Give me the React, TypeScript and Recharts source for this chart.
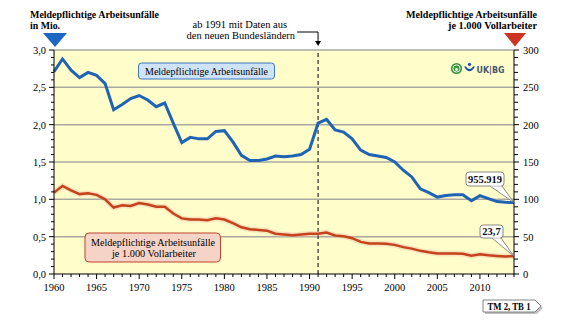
import {
  ComposedChart,
  Line,
  XAxis,
  YAxis,
  ReferenceArea,
  ReferenceLine,
  ReferenceDot,
} from 'recharts';

const SERIF = "'Liberation Serif', 'Times New Roman', Times, serif";

// Jahre 1960 - 2014
const years = [
  1960, 1961, 1962, 1963, 1964, 1965, 1966, 1967, 1968, 1969,
  1970, 1971, 1972, 1973, 1974, 1975, 1976, 1977, 1978, 1979,
  1980, 1981, 1982, 1983, 1984, 1985, 1986, 1987, 1988, 1989,
  1990, 1991, 1992, 1993, 1994, 1995, 1996, 1997, 1998, 1999,
  2000, 2001, 2002, 2003, 2004, 2005, 2006, 2007, 2008, 2009,
  2010, 2011, 2012, 2013, 2014,
];

// Meldepflichtige Arbeitsunfälle in Mio.
const accidentsMio = [
  2.71, 2.88, 2.73, 2.63, 2.7, 2.66, 2.55, 2.2, 2.27, 2.35,
  2.39, 2.33, 2.24, 2.29, 2.02, 1.76, 1.83, 1.81, 1.81, 1.91,
  1.92, 1.77, 1.59, 1.52, 1.52, 1.54, 1.58, 1.57, 1.58, 1.6,
  1.67, 2.02, 2.07, 1.93, 1.9, 1.81, 1.66, 1.6, 1.58, 1.56,
  1.5, 1.39, 1.3, 1.14, 1.09, 1.03, 1.05, 1.06, 1.06, 0.98,
  1.05, 1.01, 0.97, 0.96, 0.955919,
];

// Meldepflichtige Arbeitsunfälle je 1.000 Vollarbeiter
const ratePer1000 = [
  109, 118, 112, 107, 108, 106, 100, 89, 92, 91,
  95, 93, 90, 90, 81, 74.5, 73, 73, 72, 74.5,
  73, 68, 62.5, 60, 59, 58, 54, 53, 52, 53,
  54, 54, 55.5, 51.5, 50.5, 48, 43, 41, 41, 40.5,
  39, 36, 34, 31, 29, 27.5, 27.5, 27.5, 27, 24.5,
  26.3, 25, 24.2, 23.6, 23.7,
];

const gridLevels = [0.5, 1.0, 1.5, 2.0, 2.5, 3.0];
const leftTicks = Array.from({ length: 31 }, (_, i) => i / 10);
const rightTicks = Array.from({ length: 31 }, (_, i) => i * 10);

const data = years.map((year, i) => ({
  year,
  mio: accidentsMio[i],
  rate: ratePer1000[i],
}));

const lastYear = years[years.length - 1];
const lastMio = accidentsMio[accidentsMio.length - 1];
const lastRate = ratePer1000[ratePer1000.length - 1];

const fmtMio = (v: number) =>
  String(Math.round(v * 1e6)).replace(/\B(?=(\d{3})+(?!\d))/g, '.');
const fmtRate = (v: number) => v.toFixed(1).replace('.', ',');

const serif = { fontFamily: SERIF };

function XTick({ x, y, payload }: any) {
  const major = payload.value % 5 === 0;
  return (
    <g>
      <line x1={x} x2={x} y1={y} y2={y + (major ? 5 : 3)} stroke="#000" />
      {major && (
        <text x={x} y={y + 17} textAnchor="middle" fontSize={10.5} style={serif} fill="#000">
          {payload.value}
        </text>
      )}
    </g>
  );
}

function LeftTick({ x, y, payload }: any) {
  const major = Math.round(payload.value * 10) % 5 === 0;
  return (
    <g>
      <line x1={x} x2={x - (major ? 5 : 3)} y1={y} y2={y} stroke="#000" />
      {major && (
        <text x={x - 8} y={y + 4} textAnchor="end" fontSize={10.5} style={serif} fill="#000">
          {payload.value.toFixed(1).replace('.', ',')}
        </text>
      )}
    </g>
  );
}

function RightTick({ x, y, payload }: any) {
  const major = payload.value % 50 === 0;
  return (
    <g>
      <line x1={x} x2={x + (major ? 5 : 4)} y1={y} y2={y} stroke="#000" />
      {major && (
        <text x={x + 9} y={y + 4} textAnchor="start" fontSize={10.5} style={serif} fill="#000">
          {payload.value}
        </text>
      )}
    </g>
  );
}

function Callout({ cx, cy, label, bx, by, bw, bh, t1, t2 }: any) {
  const base = cy + by + bh;
  return (
    <g>
      <polygon
        points={`${cx},${cy} ${cx + t1},${base} ${cx + t2},${base}`}
        fill="#fff"
        stroke="#6b6b6b"
        strokeWidth={0.8}
      />
      <rect x={cx + bx} y={cy + by} width={bw} height={bh} rx={3} fill="#fff" stroke="#6b6b6b" strokeWidth={0.8} />
      <line x1={cx + t1 + 0.6} x2={cx + t2 - 0.6} y1={base} y2={base} stroke="#fff" strokeWidth={1.2} />
      <text
        x={cx + bx + bw / 2}
        y={cy + by + bh - 3.5}
        textAnchor="middle"
        fontSize={10.5}
        fontWeight="bold"
        style={serif}
        fill="#111"
      >
        {label}
      </text>
    </g>
  );
}

function NewStatesNote({ cx, cy }: any) {
  return (
    <g>
      <text x={cx - 31} y={cy - 22} textAnchor="end" fontSize={10.5} style={serif} fill="#000">
        ab 1991 mit Daten aus
      </text>
      <text x={cx - 23} y={cy - 11} textAnchor="end" fontSize={10.5} style={serif} fill="#000">
        den neuen Bundesländern
      </text>
      <polyline
        points={`${cx - 21},${cy - 18} ${cx},${cy - 18} ${cx},${cy - 8}`}
        fill="none"
        stroke="#000"
        strokeWidth={1}
      />
      <polygon points={`${cx - 3},${cy - 9} ${cx + 3},${cy - 9} ${cx},${cy - 4}`} fill="#000" />
    </g>
  );
}

function Overlay() {
  return (
    <svg
      width={566}
      height={326}
      style={{ position: 'absolute', left: 0, top: 0, pointerEvents: 'none', fontFamily: SERIF }}
    >
      {/* linke Achsenbeschriftung */}
      <text x={30} y={17.5} fontSize={10.5} fontWeight="bold" style={serif} textLength={129} lengthAdjust="spacingAndGlyphs">
        Meldepflichtige Arbeitsunfälle
      </text>
      <text x={30} y={29} fontSize={10.5} fontWeight="bold" style={serif} textLength={30} lengthAdjust="spacingAndGlyphs">
        in Mio.
      </text>
      <polygon points="43,33 67,33 55,47" fill="#1a66c2" />

      {/* rechte Achsenbeschriftung */}
      <text x={537} y={18} textAnchor="end" fontSize={10.5} fontWeight="bold" style={serif} textLength={131} lengthAdjust="spacingAndGlyphs">
        Meldepflichtige Arbeitsunfälle
      </text>
      <text x={537} y={28.5} textAnchor="end" fontSize={10.5} fontWeight="bold" style={serif} textLength={89} lengthAdjust="spacingAndGlyphs">
        je 1.000 Vollarbeiter
      </text>
      <polygon points="504,33 526,33 515,46.5" fill="#cc3322" />

      {/* Legende blau */}
      <rect x={138.5} y={63} width={136} height={16} rx={3} fill="#cfe3f8" stroke="#3d78bf" strokeWidth={1} />
      <text x={206.5} y={75} textAnchor="middle" fontSize={10.5} style={serif} textLength={123} lengthAdjust="spacingAndGlyphs">
        Meldepflichtige Arbeitsunfälle
      </text>

      {/* Legende rot */}
      <rect x={85} y={233} width={135.5} height={29} rx={4} fill="#f5d3c6" stroke="#b9452a" strokeWidth={1} />
      <text x={153} y={245.5} textAnchor="middle" fontSize={10.5} style={serif} textLength={124} lengthAdjust="spacingAndGlyphs">
        Meldepflichtige Arbeitsunfälle
      </text>
      <text x={154} y={257} textAnchor="middle" fontSize={10.5} style={serif} textLength={84} lengthAdjust="spacingAndGlyphs">
        je 1.000 Vollarbeiter
      </text>

      {/* Logo */}
      <circle cx={456.5} cy={68.5} r={5.6} fill="#3b963b" />
      <circle cx={456.5} cy={68.5} r={3.6} fill="none" stroke="#fff" strokeWidth={0.9} />
      <circle cx={456.5} cy={69.5} r={1.4} fill="#fff" />
      <circle cx={469.5} cy={64.3} r={1.6} fill="#1c4f9e" />
      <path d="M464 66.5 Q469.5 76 475 66.5 L473 66.5 Q469.5 71.5 466 66.5 Z" fill="#1c4f9e" />
      <text x={476.5} y={72.5} fontSize={9} fontWeight="bold" style={{ fontFamily: "'DejaVu Sans', sans-serif" }} fill="#4a5570" textLength={28} lengthAdjust="spacingAndGlyphs">
        UK|BG
      </text>

      {/* Quellenverweis */}
      <polygon points="485,302 537,302 543,308 537,314 485,314" fill="#9a9a9a" opacity={0.6} />
      <polygon points="483,300 535,300 541,306 535,312 483,312" fill="#fff" stroke="#666" strokeWidth={0.8} />
      <text x={509} y={309.5} textAnchor="middle" fontSize={10} fontWeight="bold" style={serif} textLength={43} lengthAdjust="spacingAndGlyphs">
        TM 2, TB 1
      </text>
    </svg>
  );
}

export default function App() {
  return (
    <div style={{ position: 'absolute', left: 0, top: 0, width: 566, height: 326, background: '#fff', fontFamily: SERIF }}>
      <ComposedChart
        width={566}
        height={326}
        data={data}
        margin={{ top: 50, right: 0, bottom: 22, left: 0 }}
      >
        <XAxis
          dataKey="year"
          type="number"
          domain={[1960, 2014]}
          ticks={years}
          interval={0}
          height={30}
          tickSize={0}
          tickMargin={0}
          tickLine={false}
          axisLine={{ stroke: '#000', strokeWidth: 1.2 }}
          tick={(p: any) => <XTick {...p} />}
        />
        <YAxis
          yAxisId="l"
          orientation="left"
          width={54}
          domain={[0, 3]}
          ticks={leftTicks}
          interval={0}
          tickSize={0}
          tickMargin={0}
          tickLine={false}
          axisLine={{ stroke: '#000' }}
          tick={(p: any) => <LeftTick {...p} />}
        />
        <YAxis
          yAxisId="r"
          orientation="right"
          width={52}
          domain={[0, 300]}
          ticks={rightTicks}
          interval={0}
          tickSize={0}
          tickMargin={0}
          tickLine={false}
          axisLine={{ stroke: '#000' }}
          tick={(p: any) => <RightTick {...p} />}
        />
        <ReferenceArea
          yAxisId="l"
          x1={1960}
          x2={2014}
          y1={0}
          y2={3}
          fill="#fffdca"
          fillOpacity={1}
          stroke="none"
        />
        {gridLevels.map((v) => (
          <ReferenceLine key={v} yAxisId="l" y={v} stroke="#a9a9a0" strokeWidth={1.5} />
        ))}
        <ReferenceLine yAxisId="l" x={1991} stroke="#000" strokeDasharray="4 3" strokeWidth={1} />
        <Line
          yAxisId="r"
          dataKey="rate"
          type="linear"
          stroke="#f0b8a0"
          strokeOpacity={0.4}
          strokeWidth={5.5}
          dot={false}
          activeDot={false}
          isAnimationActive={false}
        />
        <Line
          yAxisId="r"
          dataKey="rate"
          type="linear"
          stroke="#c4421c"
          strokeWidth={2.5}
          dot={false}
          activeDot={false}
          isAnimationActive={false}
        />
        <Line
          yAxisId="l"
          dataKey="mio"
          type="linear"
          stroke="#1f63b5"
          strokeWidth={3}
          dot={false}
          activeDot={false}
          isAnimationActive={false}
        />
        <ReferenceDot
          yAxisId="l"
          x={1991}
          y={3}
          ifOverflow="visible"
          shape={(p: any) => <NewStatesNote cx={p.cx} cy={p.cy} />}
        />
        <ReferenceDot
          yAxisId="l"
          x={lastYear}
          y={lastMio}
          ifOverflow="visible"
          shape={(p: any) => (
            <Callout cx={p.cx} cy={p.cy} label={fmtMio(lastMio)} bx={-48} by={-30.6} bw={38} bh={14} t1={-24} t2={-12} />
          )}
        />
        <ReferenceDot
          yAxisId="r"
          x={lastYear}
          y={lastRate}
          ifOverflow="visible"
          shape={(p: any) => (
            <Callout cx={p.cx} cy={p.cy} label={fmtRate(lastRate)} bx={-34} by={-31.3} bw={23} bh={13} t1={-22} t2={-13} />
          )}
        />
      </ComposedChart>
      <Overlay />
    </div>
  );
}
